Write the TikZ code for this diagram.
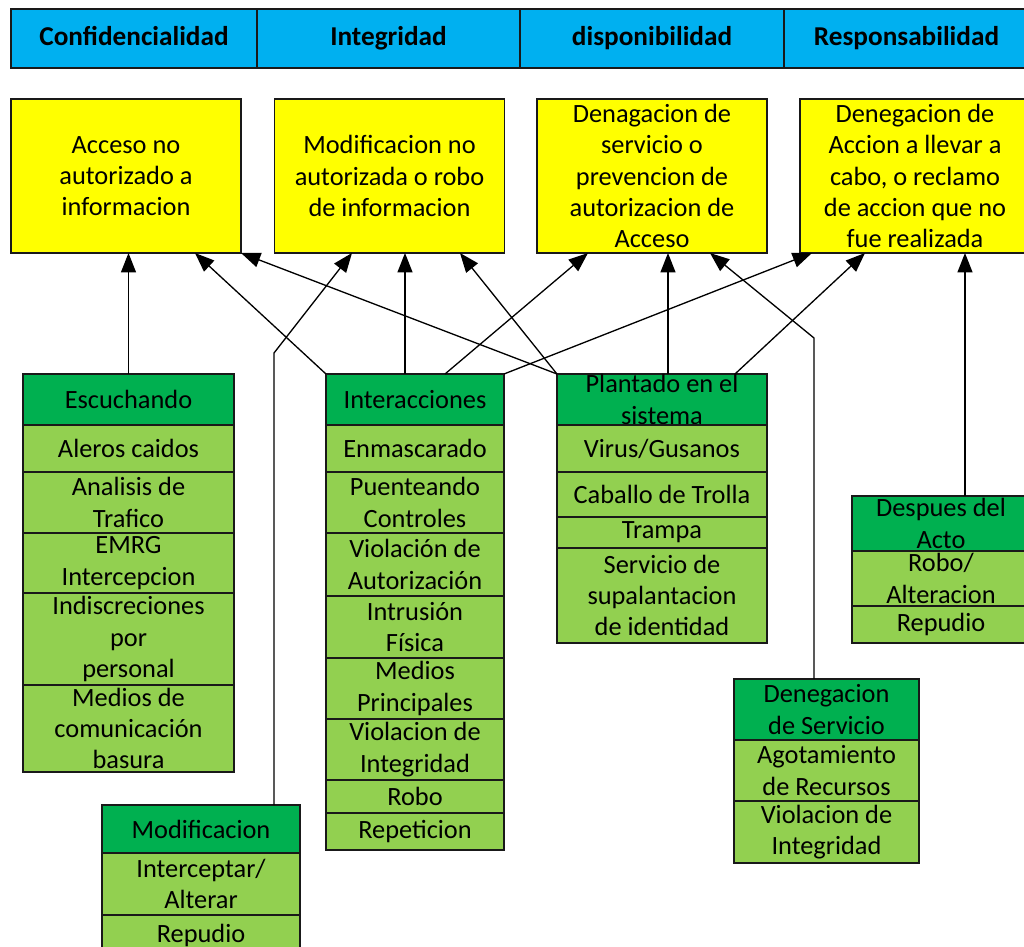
\documentclass[tikz,border=0pt]{standalone}
\usepackage{fontspec}
\setmainfont{Carlito}
\usetikzlibrary{positioning,arrows.meta}

\definecolor{barblue}{HTML}{00B0F0}
\definecolor{goalyellow}{HTML}{FFFF00}
\definecolor{headgreen}{HTML}{00B050}
\definecolor{itemgreen}{HTML}{92D050}

\begin{document}
\begin{tikzpicture}[
	box/.style={draw=black!90, line width=1pt, outer sep=0pt, inner xsep=2pt, inner ysep=0pt, align=center, font=\fontsize{15}{17.8}\selectfont},
	pillar/.style={box, fill=barblue, minimum height=1.18cm, text height=11pt, text depth=3.5pt, font=\fontsize{15.5}{18}\selectfont\bfseries},
	goal/.style={box, fill=goalyellow, minimum width=4.6cm, minimum height=3.08cm},
	group/.style={box, fill=headgreen},
	item/.style={box, fill=itemgreen},
	link/.style={line width=0.75pt, black, ->, >={Triangle[length=11pt,width=8.5pt]}}]

	\useasboundingbox (0,0) rectangle (20.48,-18.94);

	% pillars
	\node[pillar, minimum width=4.92cm] (conf) at (2.68,-0.77) {Confidencialidad};
	\node[pillar, minimum width=5.26cm, right=0pt of conf] (integ) {Integridad};
	\node[pillar, minimum width=5.28cm, right=0pt of integ] (disp) {disponibilidad};
	\node[pillar, minimum width=4.90cm, right=0pt of disp] (resp) {Responsabilidad};

	% threats
	\node[goal] (acceso) at (2.52,-3.52) {Acceso no\\autorizado a\\informacion};
	\node[goal] (modinfo) at (7.79,-3.52) {Modificacion no\\autorizada o robo\\de informacion};
	\node[goal] (denserv) at (13.04,-3.52) {Denagacion de\\servicio o\\prevencion de\\autorizacion de\\Acceso};
	\node[goal] (denacc) at (18.30,-3.52) {Denegacion de\\Accion a llevar a\\cabo, o reclamo\\de accion que no\\fue realizada};

	% attack groups
	\begin{scope}[nodes={minimum width=4.22cm}]
		\node[group, minimum height=1.02cm] (esc0) at (2.57,-7.99) {Escuchando};
		\foreach \h/\t [count=\i, remember=\i as \j (initially 0)] in
			{0.94/{Aleros caidos}, 1.22/{Analisis de\\Trafico}, 1.20/{EMRG\\Intercepcion},
			 1.84/{Indiscreciones\\por\\personal}, 1.74/{Medios de\\comunicación\\basura}}
			\node[item, minimum height=\h cm, below=0pt of esc\j] (esc\i) {\t};
	\end{scope}

	\begin{scope}[nodes={minimum width=3.56cm}]
		\node[group, minimum height=1.02cm] (inter0) at (8.30,-7.99) {Interacciones};
		\foreach \h/\t [count=\i, remember=\i as \j (initially 0)] in
			{0.94/{Enmascarado}, 1.22/{Puenteando\\Controles}, 1.26/{Violación de\\Autorización},
			 1.24/{Intrusión\\Física}, 1.22/{Medios\\Principales}, 1.22/{Violacion de\\Integridad},
			 0.66/{Robo}, 0.74/{Repeticion}}
			\node[item, minimum height=\h cm, below=0pt of inter\j] (inter\i) {\t};
	\end{scope}

	\begin{scope}[nodes={minimum width=4.20cm}]
		\node[group, minimum height=1.02cm] (plant0) at (13.24,-7.99) {Plantado en el\\sistema};
		\foreach \h/\t [count=\i, remember=\i as \j (initially 0)] in
			{0.94/{Virus/Gusanos}, 0.90/{Caballo de Trolla}, 0.62/{Trampa},
			 1.90/{Servicio de\\supalantacion\\de identidad}}
			\node[item, minimum height=\h cm, below=0pt of plant\j] (plant\i) {\t};
	\end{scope}

	\begin{scope}[nodes={minimum width=3.56cm}]
		\node[group, minimum height=1.10cm] (desp0) at (18.82,-10.47) {Despues del\\Acto};
		\foreach \h/\t [count=\i, remember=\i as \j (initially 0)] in
			{1.10/{Robo/\\Alteracion}, 0.74/{Repudio}}
			\node[item, minimum height=\h cm, below=0pt of desp\j] (desp\i) {\t};
	\end{scope}

	\begin{scope}[nodes={minimum width=3.70cm}]
		\node[group, minimum height=1.22cm] (deneg0) at (16.53,-14.19) {Denegacion\\de Servicio};
		\foreach \h/\t [count=\i, remember=\i as \j (initially 0)] in
			{1.22/{Agotamiento\\de Recursos}, 1.24/{Violacion de\\Integridad}}
			\node[item, minimum height=\h cm, below=0pt of deneg\j] (deneg\i) {\t};
	\end{scope}

	\begin{scope}[nodes={minimum width=3.96cm}]
		\node[group, minimum height=0.96cm] (modif0) at (4.02,-16.58) {Modificacion};
		\foreach \h/\t [count=\i, remember=\i as \j (initially 0)] in
			{1.24/{Interceptar/\\Alterar}, 0.80/{Repudio}}
			\node[item, minimum height=\h cm, below=0pt of modif\j] (modif\i) {\t};
	\end{scope}

	% links
	\draw[link] (esc0.north) -- (esc0.north |- acceso.south);
	\draw[link] (inter0.north west) -- ([xshift=1.38cm]acceso.south);
	\draw[link] (plant0.north west) -- (acceso.south east);
	\draw[link] (inter0.north east) -- ([xshift=0.24cm]denacc.south west);
	\draw[link] ([xshift=0.6cm]inter0.north) -- ([xshift=-1.28cm]denserv.south);
	\draw[link] ([xshift=-0.2cm]inter0.north) -- ([xshift=-0.2cm]inter0.north |- modinfo.south);
	\draw[link] (plant0.north west) -- ([xshift=1.41cm]modinfo.south);
	\draw[link] ([xshift=0.12cm]plant0.north) -- ([xshift=0.12cm]plant0.north |- denserv.south);
	\draw[link] ([xshift=1.46cm]plant0.north) -- ([xshift=-1.0cm]denacc.south);
	\draw[link] ([xshift=-0.25cm]deneg0.north) -- ++(0,6.82) -- ([xshift=1.16cm]denserv.south);
	\draw[link] ([xshift=1.46cm]modif0.north) -- ++(0,9.04) -- ([xshift=-0.75cm]modinfo.south);
	\draw[link] ([xshift=0.48cm]desp0.north) -- ([xshift=0.48cm]desp0.north |- denacc.south);
%	\draw[link] (deneg0.north) -- (denserv.south);

\end{tikzpicture}
\end{document}
